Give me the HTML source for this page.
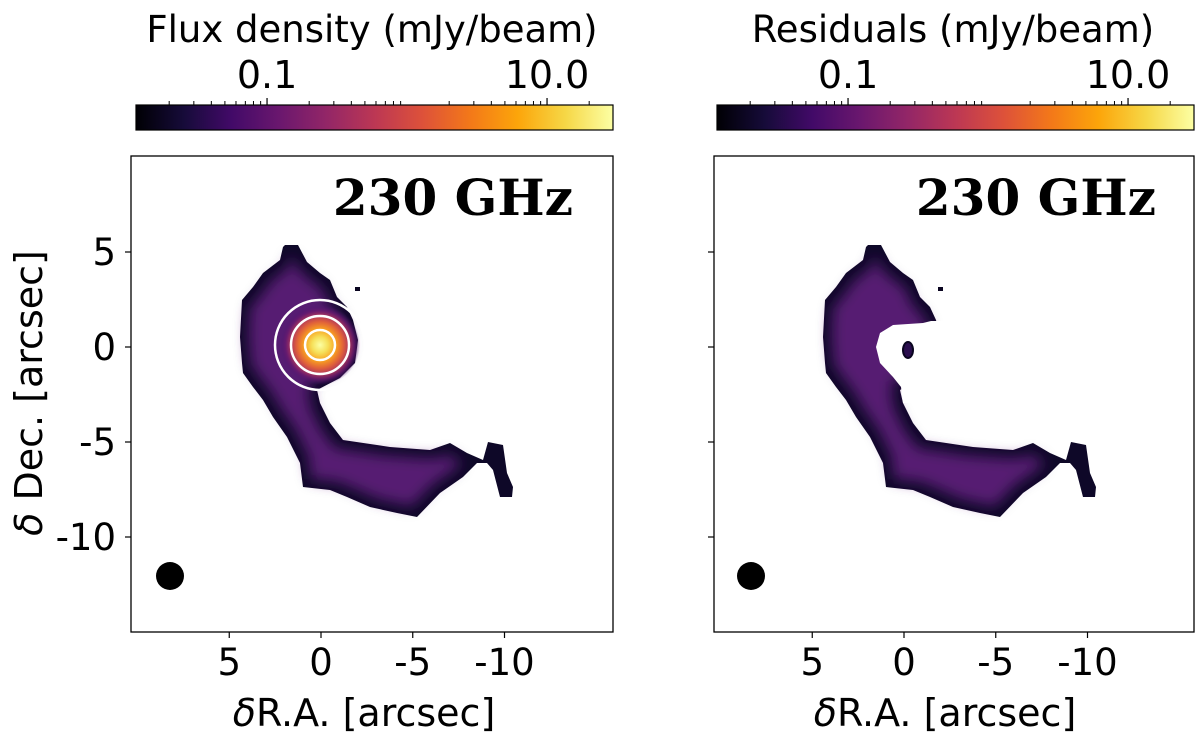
<!DOCTYPE html>
<html><head><meta charset="utf-8"><style>
body{margin:0;background:#fff;width:1200px;height:735px;overflow:hidden}
svg{font-family:"DejaVu Sans","Liberation Sans",sans-serif}
</style></head><body>
<svg id="fig" width="1200" height="735" viewBox="0 0 1200 735" xmlns="http://www.w3.org/2000/svg">
<defs>
<linearGradient id="inferno" x1="0" x2="1" y1="0" y2="0">
<stop offset="0" stop-color="#000004"/><stop offset="0.1" stop-color="#160b39"/><stop offset="0.2" stop-color="#420a68"/><stop offset="0.3" stop-color="#6a176e"/><stop offset="0.4" stop-color="#932667"/><stop offset="0.5" stop-color="#bc3754"/><stop offset="0.6" stop-color="#dd513a"/><stop offset="0.7" stop-color="#f37819"/><stop offset="0.8" stop-color="#fca50a"/><stop offset="0.9" stop-color="#f6d746"/><stop offset="1" stop-color="#fcffa4"/>
</linearGradient>
<radialGradient id="core" cx="0.5" cy="0.5" r="0.5">
<stop offset="0" stop-color="#fcffa4"/><stop offset="0.2" stop-color="#f6e05a"/><stop offset="0.4" stop-color="#f8a020"/><stop offset="0.58" stop-color="#e0613a"/><stop offset="0.72" stop-color="#b3395a"/><stop offset="0.86" stop-color="#6a1a6e" stop-opacity="0.8"/><stop offset="1" stop-color="#4a1670" stop-opacity="0"/>
</radialGradient>
<filter id="inner" x="-10%" y="-10%" width="120%" height="120%">
<feMorphology operator="erode" radius="8"/><feGaussianBlur stdDeviation="7"/>
</filter>
<clipPath id="clipBox"><rect x="131" y="156" width="480" height="476"/></clipPath>
</defs>
<g id="panels"></g>
</svg>
<script>
const NS="http://www.w3.org/2000/svg";
const xTicks=[5,0,-5,-10];
const yTicks=[5,0,-5,-10];
const cbarMajor=[0.1,10];
const cbarMajorLabels=["0.1","10.0"];
const cbarMinor=[0.02,0.03,0.04,0.05,0.06,0.07,0.08,0.09,0.2,0.3,0.4,0.5,0.6,0.7,0.8,0.9,2,3,4,5,6,7,8,9,20];
const cbarTitles=["Flux density (mJy/beam)","Residuals (mJy/beam)"];
const blob=[[285,245],[298,245],[307,262],[320,273],[330,280],[337,297],[347,307],[353,320],[358,340],[355,363],[340,378],[317,390],[320,403],[330,423],[343,440],[390,447],[430,450],[450,443],[467,453],[483,460],[488,442],[503,445],[507,473],[513,487],[512,497],[500,497],[493,470],[487,463],[477,463],[463,477],[440,493],[417,517],[397,513],[370,507],[347,497],[330,490],[303,487],[300,463],[287,437],[273,417],[263,400],[253,387],[243,373],[242,363],[240,337],[242,300],[253,287],[263,273],[280,260],[283,247]];
const hole=[[348,321],[340,323],[310,325],[297,333],[293,347],[297,363],[310,377],[318,387],[320,403],[370,403],[370,321]];
const panelOffsets=[0,583];
const fig=document.getElementById('panels');
function el(tag,attrs,parent){const e=document.createElementNS(NS,tag);for(const k in attrs)e.setAttribute(k,attrs[k]);(parent||fig).appendChild(e);return e;}
function xs(ra,off){return off+321-18.35*ra;}
function ys(dec){return 347-19.0*dec;}
function cbx(v,x0){return x0+(Math.log10(v)+1.936)*140;}
panelOffsets.forEach((off,pi)=>{
  const g=el('g',{});
  
  
  const cx0=136+off+(pi?-2:0);
  const cb=el('rect',{x:cx0,y:105,width:477,height:25,fill:'url(#inferno)',stroke:'#000','stroke-width':1.2},g);
  
  
  cbarMinor.forEach(v=>{el('line',{x1:cbx(v,cx0),x2:cbx(v,cx0),y1:105,y2:101,stroke:'#000','stroke-width':1},g);});
  cbarMajor.forEach((v,i)=>{
    el('line',{x1:cbx(v,cx0),x2:cbx(v,cx0),y1:105,y2:98,stroke:'#000','stroke-width':1.2},g);
    const t=el('text',{x:cbx(v,cx0),y:88,'text-anchor':'middle','font-size':38},g);t.textContent=cbarMajorLabels[i];
    
    
  });
  const ct=el('text',{x:cx0+236,y:42,'text-anchor':'middle','font-size':37},g);ct.textContent=cbarTitles[pi];
  
  
  const img=el('g',{'clip-path':'url(#clipBox)',transform:`translate(${off},0)`},g);
  
  
  const pts=blob.map(p=>p.join(',')).join(' ');
  el('polygon',{points:pts,fill:'#0e0828'},img);
  el('polygon',{points:pts,fill:'#561b72',filter:'url(#inner)'},img);
  el('rect',{x:355,y:287,width:5,height:4,fill:'#0a0520'},img);
  if(pi===0){
    el('circle',{cx:320,cy:345,r:40,fill:'url(#core)'},img);
    [15,29,45].forEach(r=>el('circle',{cx:320,cy:345,r:r,fill:'none',stroke:'#fff','stroke-width':2.5},img));
  } else {
    el('polygon',{points:hole.map(p=>p.join(',')).join(' '),fill:'#fff'},img);
    el('ellipse',{cx:325,cy:350,rx:5,ry:8,fill:'#2a0e4e',stroke:'#0a0520','stroke-width':2},img);
  }
  const bm=el('circle',{cx:170+off+(pi?-2:0),cy:576,r:14,fill:'#000'},g);
  
  
  el('rect',{x:131+off,y:156,width:482-(pi?2:0),height:476,fill:'none',stroke:'#000','stroke-width':1.3},g);
  const lab=el('text',{x:573+off,y:215,'text-anchor':'end','font-size':50,'font-weight':'bold','font-family':'"DejaVu Serif","Liberation Serif",serif'},g);
  lab.textContent='230 GHz';
  
  
  xTicks.forEach(v=>{
    const x=xs(v,off);
    el('line',{x1:x,x2:x,y1:632,y2:638,stroke:'#000','stroke-width':1.2},g);
    const t=el('text',{x:x,y:675,'text-anchor':'middle','font-size':37},g);t.textContent=v;
    
    
  });
  yTicks.forEach(v=>{
    const y=ys(v);
    el('line',{x1:131+off,x2:125+off,y1:y,y2:y,stroke:'#000','stroke-width':1.2},g);
    if(pi===0){const t=el('text',{x:116,y:y+13,'text-anchor':'end','font-size':37},g);t.textContent=v;
      
      }
  });
  const xl=el('text',{x:364+off-(pi?2:0),y:726,'text-anchor':'middle','font-size':38},g);
  xl.innerHTML='<tspan font-style="italic">δ</tspan>R.A. [arcsec]';
  
  
  if(pi===0){
    const yl=el('text',{x:0,y:0,'text-anchor':'middle','font-size':38,transform:'translate(42,393) rotate(-90)'},g);
    yl.innerHTML='<tspan font-style="italic">δ</tspan> Dec. [arcsec]';
    
    
  }
});
</script>
</body></html>
